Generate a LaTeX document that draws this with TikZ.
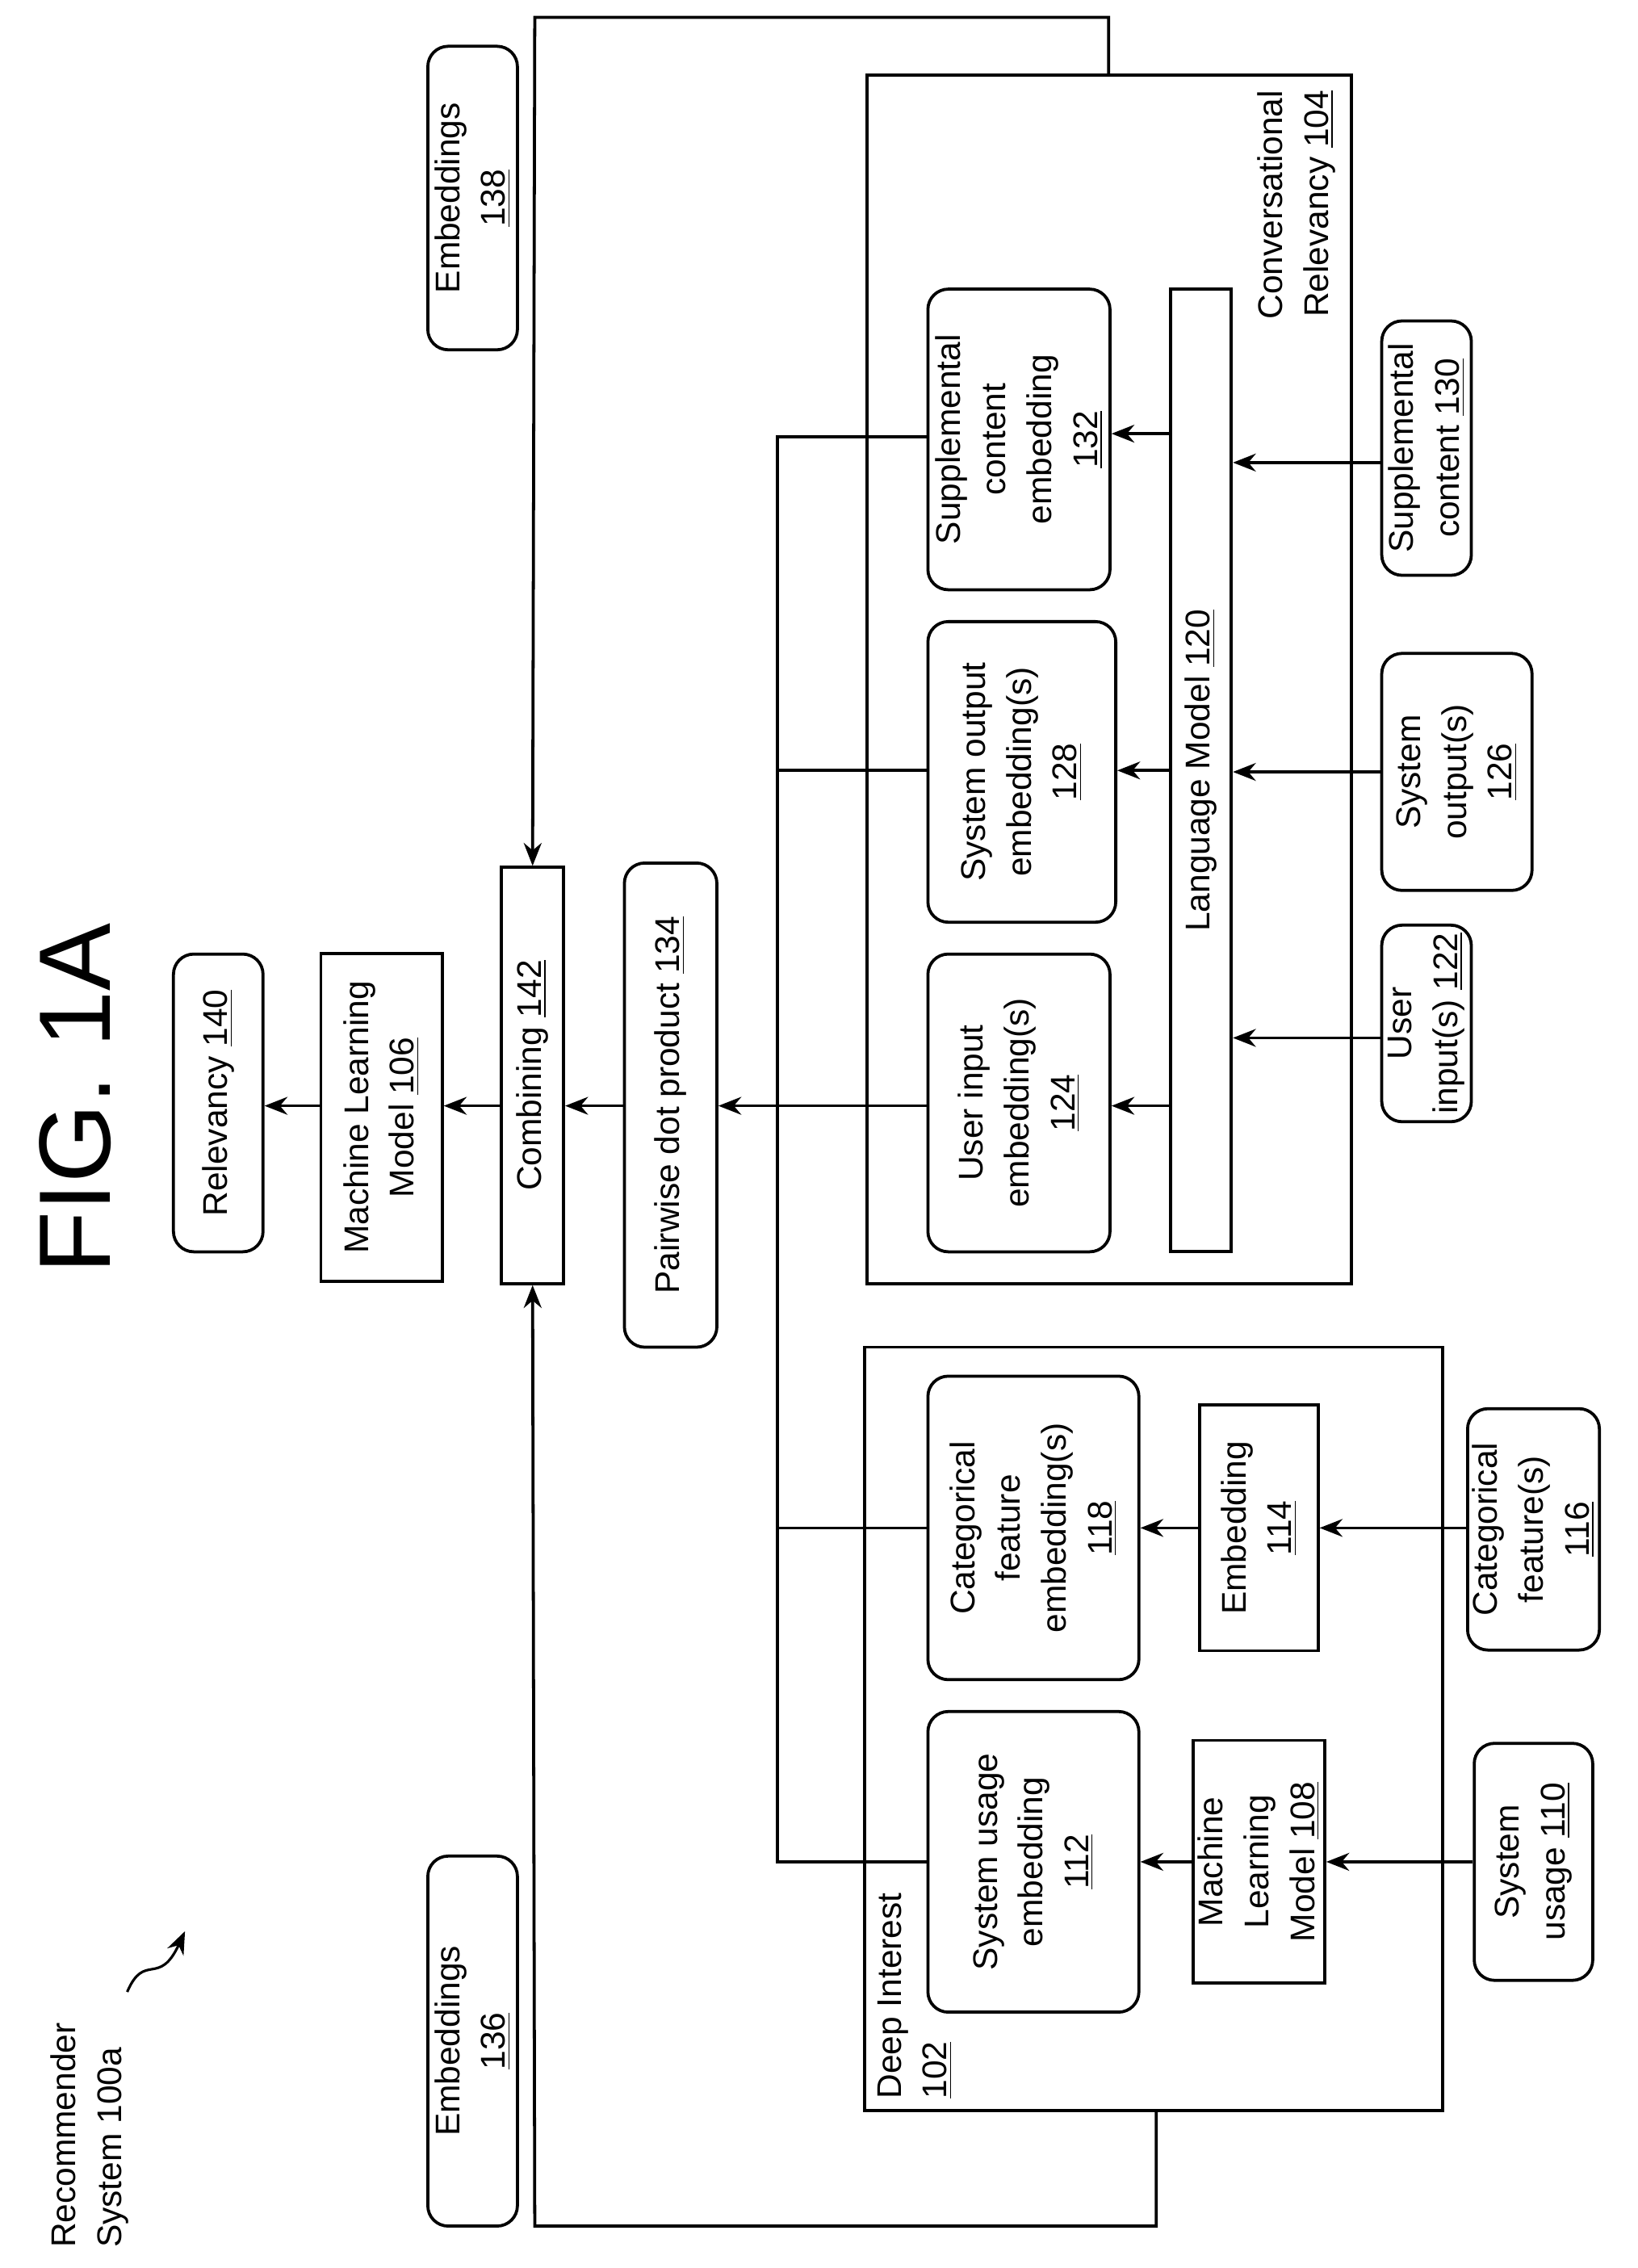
\documentclass[tikz,border=0pt]{standalone}
\usepackage{fontspec}
\setmainfont{Liberation Sans}
\usetikzlibrary{arrows.meta}
\begin{document}
\begin{tikzpicture}[x=0.02cm,y=-0.02cm,line width=1.2pt,
  every node/.style={font=\fontsize{13.5}{18}\selectfont,align=center,inner sep=2pt},
  box/.style={draw,rotate=90,line width=1.2pt},
  rbox/.style={box,rounded corners=8pt},
  arr/.style={-{Stealth[length=9pt,width=7pt]}}]
\useasboundingbox (0,0) rectangle (1133,1569);
\node[rotate=90,font=\fontsize{40}{40}\selectfont] (fig) at (52,760) {FIG. 1A};
\node[rbox,minimum width=4.12cm,minimum height=1.24cm] (rel) at (151,763) {Relevancy \underline{140}};
\node[box,minimum width=4.54cm,minimum height=1.68cm] (ml106) at (264,773) {Machine Learning\\Model \underline{106}};
\node[box,minimum width=5.76cm,minimum height=0.86cm] (comb) at (368.5,744) {Combining \underline{142}};
\node[rbox,minimum width=6.7cm,minimum height=1.28cm] (pw) at (464,764.5) {Pairwise dot product \underline{134}};
\node[rbox,minimum width=4.2cm,minimum height=1.24cm] (e138) at (327,137) {Embeddings\\\underline{138}};
\node[rbox,minimum width=5.12cm,minimum height=1.24cm] (e136) at (327,1412) {Embeddings\\\underline{136}};
% group boxes
\draw (600,52) rectangle (935,888);
\coordinate (crtop) at (767,52);
\draw (598,932) rectangle (998,1460);
\coordinate (dibot) at (800,1460);
\node[rotate=90,anchor=east,align=right] (crlab) at (897,58) {Conversational\\Relevancy \underline{104}};
\node[rotate=90,anchor=west,align=left,inner sep=0pt] (dilab) at (633,1453) {Deep Interest\\\underline{102}};
% conversational
\node[box,minimum width=13.32cm,minimum height=0.84cm] (lm) at (831,533) {Language Model \underline{120}};
\node[rbox,minimum width=4.12cm,minimum height=2.52cm] (uie) at (705,763) {User input\\embedding(s)\\\underline{124}};
\node[rbox,minimum width=4.16cm,minimum height=2.6cm] (soe) at (707,534) {System output\\embedding(s)\\\underline{128}};
\node[rbox,minimum width=4.16cm,minimum height=2.52cm] (sce) at (705,304) {Supplemental\\content\\embedding\\\underline{132}};
\node[rbox,minimum width=2.72cm,minimum height=1.24cm] (ui) at (987,708) {User\\input(s) \underline{122}};
\node[rbox,minimum width=3.28cm,minimum height=2.08cm] (so) at (1008,534) {System\\output(s)\\\underline{126}};
\node[rbox,minimum width=3.52cm,minimum height=1.24cm] (sc) at (987,310) {Supplemental\\content \underline{130}};
% deep interest
\node[rbox,minimum width=4.16cm,minimum height=2.92cm] (sue) at (715,1288) {System usage\\embedding\\\underline{112}};
\node[box,minimum width=3.36cm,minimum height=1.64cm] (ml108) at (871,1288) {Machine\\Learning\\Model \underline{108}};
\node[rbox,minimum width=3.28cm,minimum height=1.64cm] (su) at (1061,1288) {System\\usage \underline{110}};
\node[rbox,minimum width=4.2cm,minimum height=2.92cm] (cfe) at (715,1057) {Categorical\\feature\\embedding(s)\\\underline{118}};
\node[box,minimum width=3.4cm,minimum height=1.64cm] (emb) at (871,1057) {Embedding\\\underline{114}};
\node[rbox,minimum width=3.34cm,minimum height=1.64cm] (cf) at (1061,1058) {Categorical\\feature(s)\\\underline{116}};
% arrows
\draw[arr] (ui.north |- 0,718) -- (lm.south |- 0,718);
\draw[arr] (so.north) -- (lm.south |- so.north);
\draw[arr] (sc.north |- 0,320) -- (lm.south |- 0,320);
\draw[arr] (lm.north |- 0,765) -- (uie.south |- 0,765);
\draw[arr] (lm.north |- 0,533) -- (soe.south |- 0,533);
\draw[arr] (lm.north |- 0,300) -- (sce.south |- 0,300);
\draw[arr] (su.north) -- (ml108.south);
\draw[arr] (ml108.north) -- (sue.south);
\draw[arr] (cf.north |- emb.south) -- (emb.south);
\draw[arr] (emb.north) -- (cfe.south);
\coordinate (bus1) at (538,1288);
\coordinate (bus2) at (538,302);
\draw (sue.north) -- (bus1) -- (bus2) -- (sce.north |- bus2);
\draw (cfe.north) -- (538,1057);
\draw (soe.north |- 0,533) -- (538,533);
\draw[arr] (uie.north |- 0,765) -- (pw.south |- 0,765);
\draw[arr] (pw.north |- 0,765) -- (comb.south |- 0,765);
\draw[arr] (comb.north |- 0,765) -- (ml106.south |- 0,765);
\draw[arr] (ml106.north |- 0,765) -- (rel.south |- 0,765);
\draw[arr] (crtop) -- (767,12) -- (370,12) -- (comb.east);
\draw[arr] (dibot) -- (800,1540) -- (370,1540) -- (comb.west);
% recommender label
\node[rotate=90,anchor=west,align=left,inner sep=0pt] (rs) at (62,1556) {Recommender\\System 100a};
\coordinate (rsa) at (88,1378);
\coordinate (rsb) at (128,1336);
\draw[arr,line width=1pt] (rsa) .. controls (100,1350) and (110,1375) .. (rsb);
\end{tikzpicture}
\end{document}
